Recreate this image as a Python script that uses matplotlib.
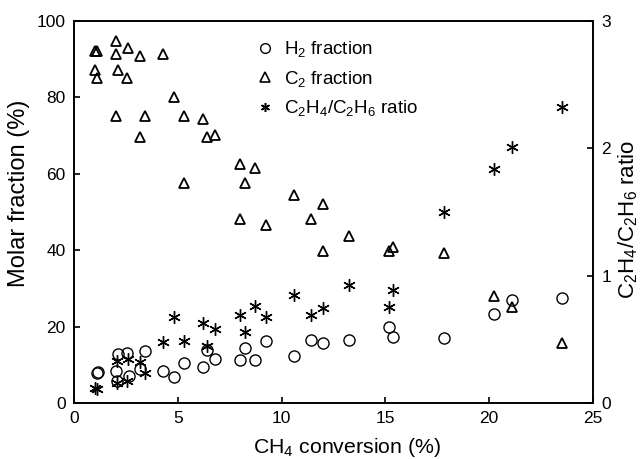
import matplotlib
matplotlib.use('Agg')
import matplotlib.pyplot as plt
from matplotlib.lines import Line2D

plt.rcParams['font.family'] = ['Liberation Sans', 'DejaVu Sans']
plt.rcParams['mathtext.default'] = 'regular'

# H2 fraction (%)
h2_x = [1.09, 1.17, 2.02, 2.09, 2.13, 2.54, 2.66, 3.2, 3.42, 4.3, 4.82, 5.3, 6.23, 6.42,
        6.81, 8.01, 8.24, 8.72, 9.23, 10.6, 11.42, 12.01, 13.26, 15.17, 15.38, 17.83,
        20.23, 21.08, 23.49]
h2_y = [7.8, 8.0, 8.5, 5.7, 12.8, 13.1, 7.0, 9.0, 13.7, 8.4, 6.8, 10.5, 9.5, 13.8,
        11.4, 11.2, 14.3, 11.2, 16.3, 12.3, 16.4, 15.7, 16.6, 19.9, 17.3, 17.1,
        23.2, 26.9, 27.5]

# C2 fraction (%)
c2_x = [1.01, 1.12, 1.01, 1.12, 2.02, 2.02, 2.02, 2.13, 2.54, 2.62, 3.18, 3.18, 3.42,
        4.3, 4.82, 5.3, 5.3, 6.2, 6.39, 6.79, 8.01, 8.01, 8.24, 8.72, 9.23, 10.6,
        11.42, 12.01, 12.01, 13.26, 15.17, 15.38, 17.83, 20.23, 21.08, 23.49]
c2_y = [92.0, 92.0, 87.1, 85.0, 94.8, 91.3, 75.0, 87.1, 85.0, 92.8, 90.7, 69.7, 75.0,
        91.3, 80.0, 75.0, 57.5, 74.3, 69.7, 70.0, 62.4, 48.2, 57.5, 61.4, 46.5, 54.5,
        48.2, 52.1, 39.8, 43.6, 39.8, 40.8, 39.2, 27.9, 25.0, 15.6]

# C2H4/C2H6 ratio
ratio_x = [1.02, 1.1, 2.05, 2.09, 2.54, 2.62, 3.2, 3.42, 4.3, 4.82, 5.3, 6.23, 6.42,
           6.81, 8.01, 8.24, 8.72, 9.23, 10.6, 11.42, 12.01, 13.26, 15.17, 15.38,
           17.83, 20.23, 21.08, 23.49]
ratio_y = [0.115, 0.11, 0.33, 0.159, 0.17, 0.345, 0.323, 0.232, 0.476, 0.671, 0.484,
           0.629, 0.446, 0.577, 0.689, 0.559, 0.76, 0.671, 0.846, 0.689, 0.749, 0.924,
           0.754, 0.885, 1.498, 1.838, 2.01, 2.326]

fig = plt.figure(figsize=(6.43, 4.59), dpi=100)
ax = fig.add_axes([0.1151, 0.122, 0.8071, 0.833])
ax2 = ax.twinx()

star = (6, 2, 0)
ax.plot(h2_x, h2_y, 'o', mfc='none', mec='black', ms=8, mew=1.0, ls='none')
ax.plot(c2_x, c2_y, '^', mfc='none', mec='black', ms=7.5, mew=1.3, ls='none')
ax2.plot(ratio_x, ratio_y, marker=star, color='black', ms=9, mew=1.0, ls='none')

ax.set_xlim(0, 25)
ax.set_ylim(0, 100)
ax2.set_ylim(0, 3)
ax.set_xticks([0, 5, 10, 15, 20, 25])
ax.set_yticks([0, 20, 40, 60, 80, 100])
ax2.set_yticks([0, 1, 2, 3])

for a in (ax, ax2):
    a.tick_params(direction='in', length=4, width=1.2, labelsize=12.5, pad=6)
    for s in a.spines.values():
        s.set_linewidth(1.2)

ax.set_xlabel('CH$_4$ conversion (%)', fontsize=15.3)
ax.xaxis.set_label_coords(0.526, -0.085)
ax.set_ylabel('Molar fraction (%)', fontsize=17)
ax.yaxis.set_label_coords(-0.085, 0.548)
ax2.set_ylabel('C$_2$H$_4$/C$_2$H$_6$ ratio', fontsize=16)
ax2.yaxis.set_label_coords(1.046, 0.479)

handles = [
    Line2D([], [], marker='o', mfc='none', mec='black', ms=7, mew=1.0, ls='none'),
    Line2D([], [], marker='^', mfc='none', mec='black', ms=6.5, mew=1.2, ls='none'),
    Line2D([], [], marker=star, color='black', ms=6.5, mew=1.1, ls='none'),
]
labels = ['H$_2$ fraction', 'C$_2$ fraction', 'C$_2$H$_4$/C$_2$H$_6$ ratio']
ax2.legend(handles, labels, loc='upper left', bbox_to_anchor=(0.314, 0.995),
           frameon=False, fontsize=13.5, labelspacing=0.5, handletextpad=0.4,
           handlelength=1.2)

fig.savefig('out.png', dpi=100)
